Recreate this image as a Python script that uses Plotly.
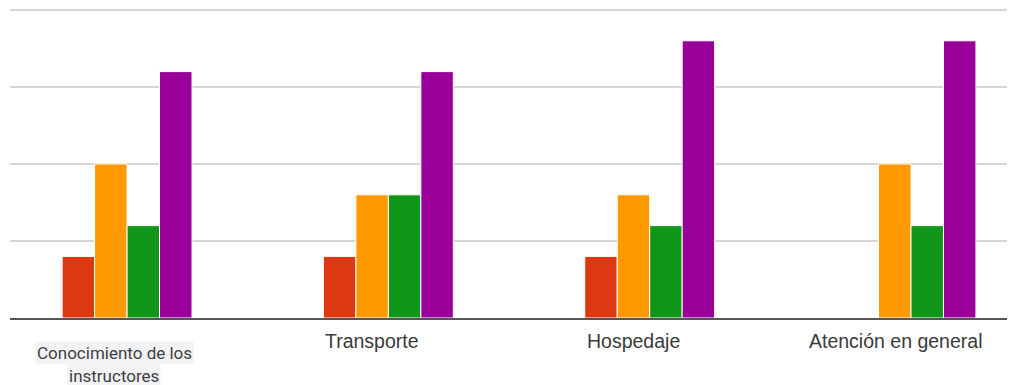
import plotly.graph_objects as go

categorias = ["Conocimiento de los instructores", "Transporte", "Hospedaje", "Atención en general"]

serie_1 = [4, 4, 4, 0]
serie_2 = [10, 8, 8, 10]
serie_3 = [6, 8, 6, 6]
serie_4 = [16, 16, 18, 18]

colores = ["#dc3912", "#ff9900", "#109618", "#990099"]
series = [serie_1, serie_2, serie_3, serie_4]

fig = go.Figure()
for i, valores in enumerate(series):
    fig.add_trace(go.Bar(
        x=categorias,
        y=valores,
        marker=dict(color=colores[i], line=dict(color="white", width=1)),
        showlegend=False
    ))

# etiquetas del eje x (anotaciones para poder colocarlas como en el original)
fuente = dict(family="Liberation Sans, Arial", size=19.5, color="#3a3a3a")
for cat in categorias[1:]:
    fig.add_annotation(x=cat, xref="x", y=-0.0747, yref="paper", yanchor="middle",
                       text=cat, showarrow=False, xshift=-16, font=fuente)

# la primera va en dos lineas, cada una con su fondo gris claro
fuente_1 = dict(family="Roboto", size=17, color="#404040")
lineas = ["Conocimiento de los", "instructores"]
alturas = [-0.1136, -0.188]
for txt, yy in zip(lineas, alturas):
    fig.add_annotation(x=categorias[0], xref="x", y=yy, yref="paper", yanchor="middle",
                       text=txt, showarrow=False, xshift=-13, font=fuente_1,
                       bgcolor="#f2f3f5", borderpad=1)

fig.update_layout(
    width=1007, height=377,
    margin=dict(l=2, r=0, t=0, b=67),
    barmode="group",
    bargap=0.503,
    bargroupgap=0,
    plot_bgcolor="white",
    paper_bgcolor="white",
    xaxis=dict(
        type="category",
        range=[-0.448, 3.398],
        showticklabels=False,
        showgrid=False,
        showline=True,
        linecolor="#555555",
        linewidth=2,
    ),
    yaxis=dict(
        range=[0, 20.13],  # un poco de aire arriba para que se vea la linea de 20
        tickvals=[5, 10, 15, 20],
        showticklabels=False,
        gridcolor="#d6d6d6",
        gridwidth=1.5,
        zeroline=False,
    ),
)

fig.write_html("out.html")
